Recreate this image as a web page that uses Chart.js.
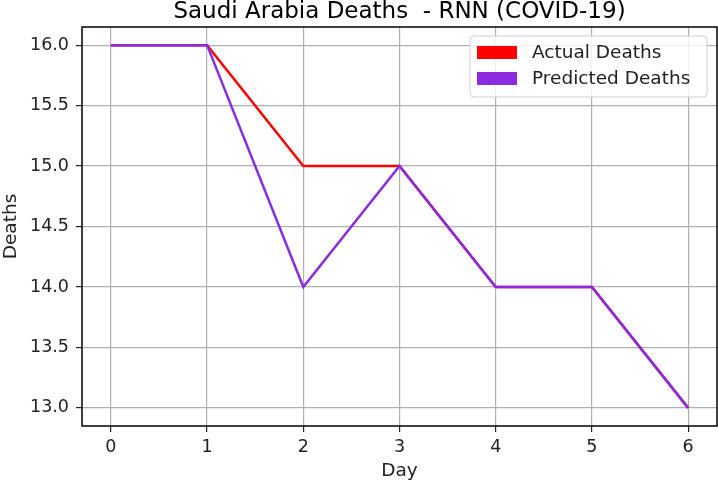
<!DOCTYPE html>
<html>
<head>
<meta charset="utf-8">
<script src="https://cdn.jsdelivr.net/npm/chart.js@4"></script>
<style>
  html, body { margin: 0; padding: 0; background: #fff; }
  #wrap { width: 718px; height: 482px; }
</style>
</head>
<body>
<div id="wrap"><canvas id="deathsChart" width="718" height="482"></canvas></div>
<script>
const days = [0, 1, 2, 3, 4, 5, 6];
const actualDeaths = [16, 16, 15, 15, 14, 14, 13];
const predictedDeaths = [16, 16, 14, 15, 14, 14, 13];
const yTicks = [13.0, 13.5, 14.0, 14.5, 15.0, 15.5, 16.0];
const chartTitle = 'Saudi Arabia Deaths  - RNN (COVID-19)';

const FONT = "'DejaVu Sans', sans-serif";

// frame, title and legend in matplotlib style
const mplDecor = {
    id: 'mplDecor',
    afterDraw(chart) {
        const ctx = chart.ctx;
        const a = chart.chartArea;
        ctx.save();
        ctx.strokeStyle = '#000';
        ctx.lineWidth = 1.5;
        ctx.strokeRect(a.left, a.top, a.right - a.left, a.bottom - a.top);

        ctx.fillStyle = '#000';
        ctx.font = '23px ' + FONT;
        ctx.textAlign = 'center';
        ctx.textBaseline = 'alphabetic';
        ctx.fillText(chartTitle, (a.left + a.right) / 2, 18);

        // legend box
        const bx = 470, by = 36, bw = 237, bh = 61;
        ctx.fillStyle = 'rgba(255,255,255,0.8)';
        ctx.strokeStyle = '#d0d0d0';
        ctx.lineWidth = 1;
        ctx.beginPath();
        ctx.roundRect(bx, by, bw, bh, 4);
        ctx.fill();
        ctx.stroke();
        ctx.font = '18.5px ' + FONT;
        ctx.textAlign = 'left';
        ctx.textBaseline = 'middle';
        chart.data.datasets.forEach((ds, i) => {
            const y = by + 16 + i * 26;
            ctx.fillStyle = ds.borderColor;
            ctx.fillRect(bx + 7, y - 6, 40, 13);
            ctx.fillStyle = '#222';
            ctx.fillText(ds.label, bx + 62, y + 1);
        });
        ctx.restore();
    }
};

const ctx = document.getElementById('deathsChart');
new Chart(ctx, {
    type: 'line',
    data: {
        labels: days,
        datasets: [{
            label: 'Actual Deaths',
            data: days.map((d, i) => ({ x: d, y: actualDeaths[i] })),
            borderColor: '#ff0000',
            backgroundColor: '#ff0000',
            borderWidth: 2.5,
            pointRadius: 0,
            tension: 0,
            order: 2
        }, {
            label: 'Predicted Deaths',
            data: days.map((d, i) => ({ x: d, y: predictedDeaths[i] })),
            borderColor: '#8a2be2',
            backgroundColor: '#8a2be2',
            borderWidth: 2.5,
            pointRadius: 0,
            tension: 0,
            order: 1
        }]
    },
    options: {
        responsive: false,
        animation: false,
        layout: { padding: { top: 27, right: 1, left: 0, bottom: 0 } },
        plugins: {
            legend: { display: false },
            title: { display: false },
            tooltip: { enabled: false }
        },
        scales: {
            x: {
                type: 'linear',
                min: -0.3,
                max: 6.3,
                afterBuildTicks: s => { s.ticks = days.map(v => ({ value: v })); },
                afterFit: s => { s.height = 56; },
                grid: { color: '#b0b0b0', lineWidth: 1.2, tickColor: '#222', tickLength: 6 },
                border: { display: false },
                ticks: { color: '#222', font: { family: FONT, size: 17.5 }, padding: 5,
                         maxRotation: 0, autoSkip: false, callback: v => String(v) },
                title: { display: true, text: 'Day', color: '#222',
                         font: { family: FONT, size: 18.5 }, padding: { top: 0, bottom: 0 } }
            },
            y: {
                min: 12.85,
                max: 16.15,
                afterBuildTicks: s => { s.ticks = yTicks.map(v => ({ value: v })); },
                afterFit: s => { s.width = 82; },
                grid: { color: '#b0b0b0', lineWidth: 1.2, tickColor: '#222', tickLength: 6 },
                border: { display: false },
                ticks: { color: '#222', font: { family: FONT, size: 17.5 }, padding: 7,
                         autoSkip: false, callback: v => v.toFixed(1) },
                title: { display: true, text: 'Deaths', color: '#222',
                         font: { family: FONT, size: 18.5 }, padding: { top: 0, bottom: 0 } }
            }
        }
    },
    plugins: [mplDecor]
});
</script>
</body>
</html>
